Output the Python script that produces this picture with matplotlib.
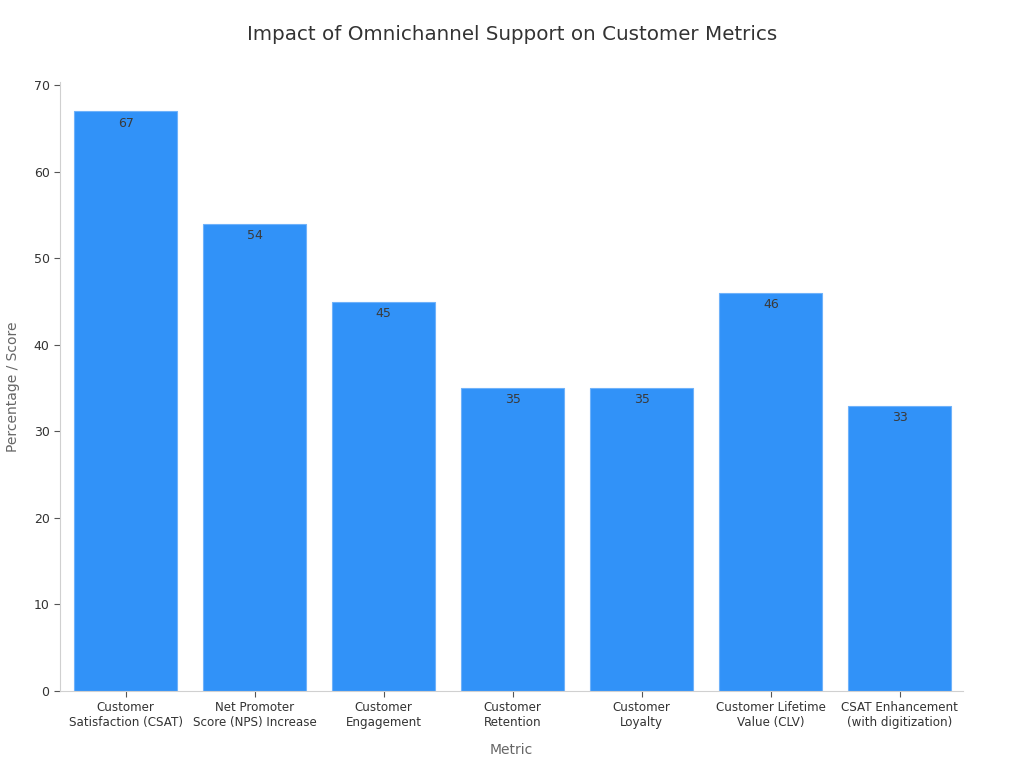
import matplotlib.pyplot as plt

metrics = [
    "Customer\nSatisfaction (CSAT)",
    "Net Promoter\nScore (NPS) Increase",
    "Customer\nEngagement",
    "Customer\nRetention",
    "Customer\nLoyalty",
    "Customer Lifetime\nValue (CLV)",
    "CSAT Enhancement\n(with digitization)",
]
values = [67, 54, 45, 35, 35, 46, 33]
yticks = [0, 10, 20, 30, 40, 50, 60, 70]

fig = plt.figure(figsize=(10.24, 7.68), dpi=100)
ax = fig.add_axes([60 / 1024, 77 / 768, 903 / 1024, 609 / 768])

x = range(len(metrics))
bars = ax.bar(x, values, width=0.8, color="#3192f8", edgecolor="#6fb2fa", linewidth=0.8)

for rect, v in zip(bars, values):
    ax.text(rect.get_x() + rect.get_width() / 2, v - 0.6, str(v),
            ha="center", va="top", fontsize=9, color="#3a3a3a")

ax.set_xlim(-0.51, 6.49)
ax.set_ylim(0, 70.4)
ax.set_yticks(yticks)
ax.set_xticks(list(x))
ax.set_xticklabels(metrics, fontsize=8.6, color="#333333")
ax.tick_params(axis="y", labelsize=9, labelcolor="#333333", color="#555555", length=4)
ax.tick_params(axis="x", color="#555555", length=4)

for side in ["top", "right"]:
    ax.spines[side].set_visible(False)
for side in ["left", "bottom"]:
    ax.spines[side].set_color("#d0d0d0")

ax.set_xlabel("Metric", fontsize=10, color="#666666", labelpad=10)
ax.set_ylabel("Percentage / Score", fontsize=10, color="#666666", labelpad=10)
fig.suptitle("Impact of Omnichannel Support on Customer Metrics",
             fontsize=14.3, color="#333333", y=0.968)

fig.savefig("out.png", dpi=100)
